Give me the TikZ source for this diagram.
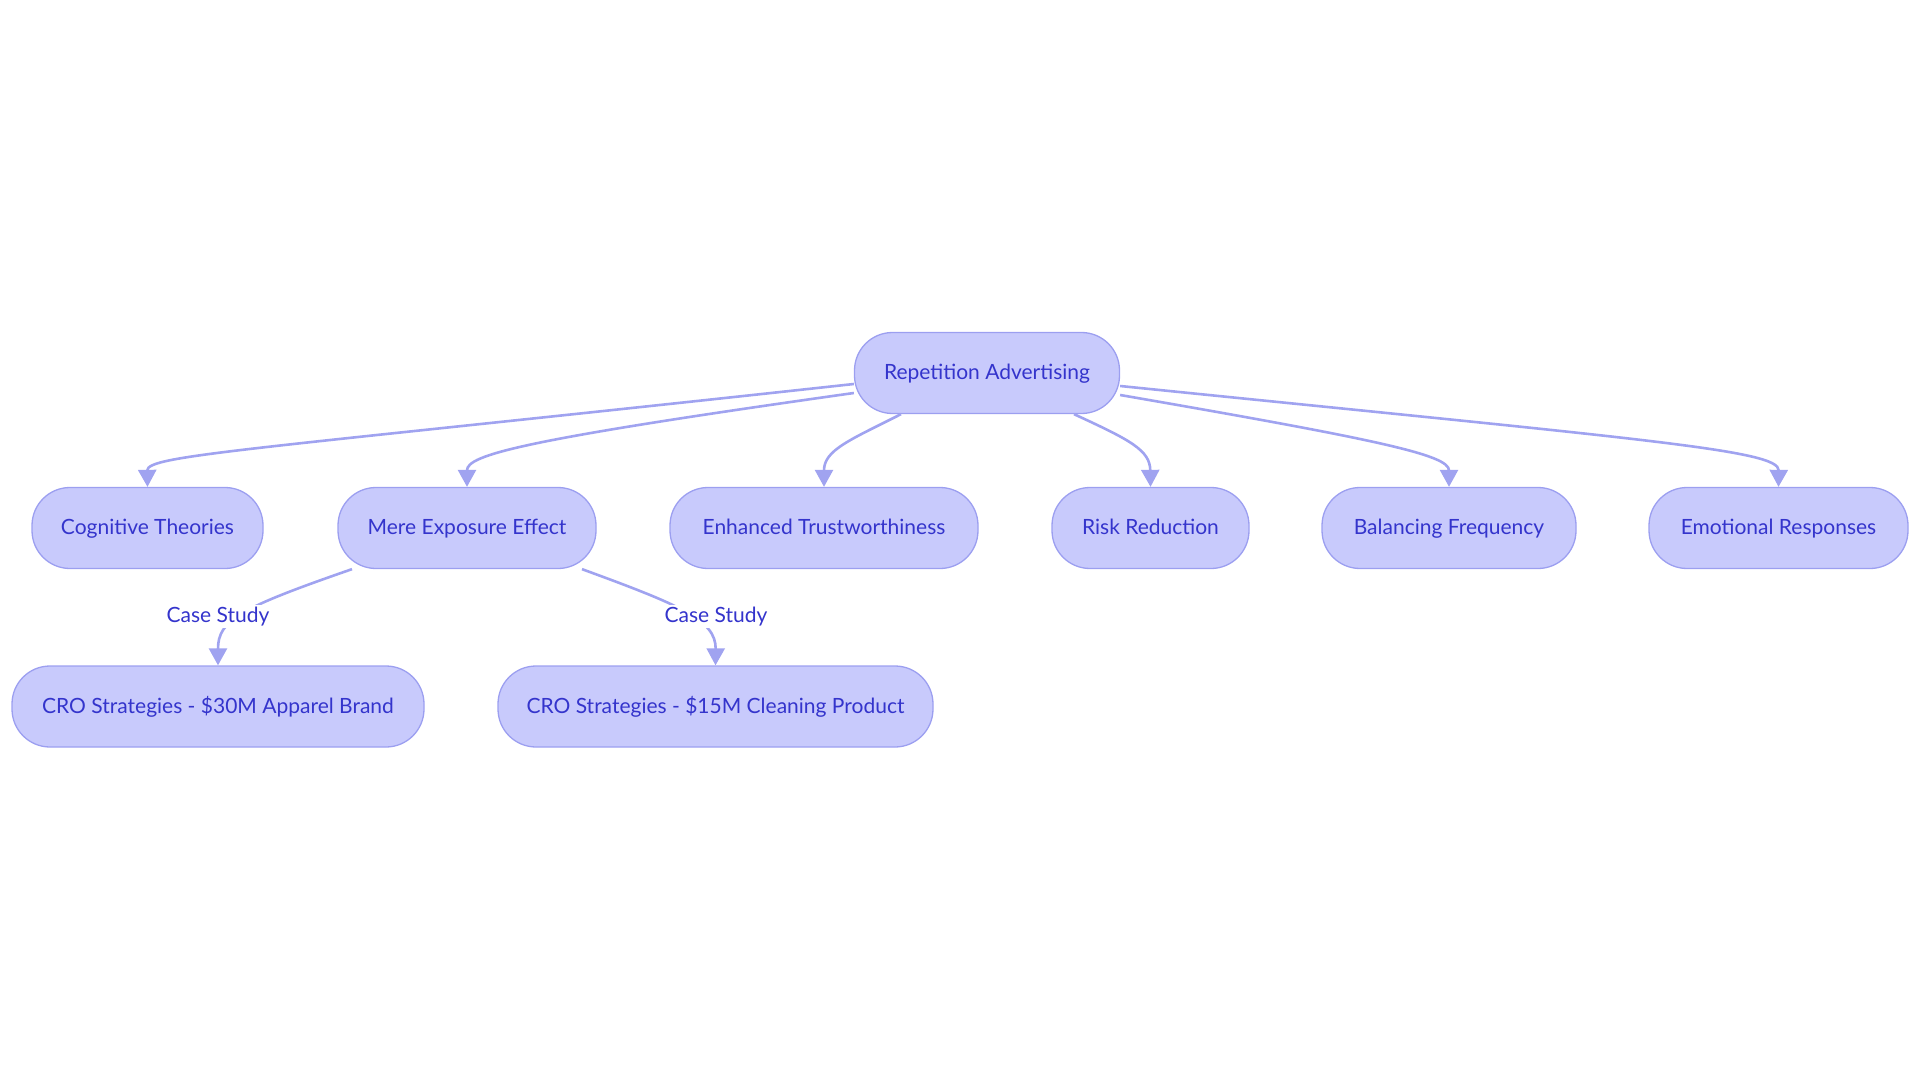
\documentclass[tikz,border=0pt]{standalone}
\usepackage{fontspec}
\setmainfont{Lato}
\usetikzlibrary{calc,arrows.meta}
\definecolor{nodefill}{RGB}{200,202,252}
\definecolor{nodeline}{RGB}{156,159,240}
\definecolor{edgecol}{RGB}{160,163,240}
\definecolor{txtcol}{RGB}{52,52,204}
\tikzset{
  box/.style={draw=nodeline, fill=nodefill, line width=1.3pt, rounded corners=38pt,
    minimum height=81pt, inner sep=0pt, text height=16pt, text depth=3pt,
    text=txtcol, font=\fontsize{21}{25}\selectfont},
  edge/.style={draw=edgecol, line width=2.6pt, -{Triangle[length=17pt,width=18pt]}},
  elabel/.style={fill=white, text=txtcol, inner sep=2pt, text height=16pt, text depth=3pt,
    font=\fontsize{21}{25}\selectfont}
}
\begin{document}
\begin{tikzpicture}[x=1pt,y=-1pt]
\useasboundingbox (0,0) rectangle (1920,1083);
\node[box, minimum width=265pt] (root) at (987,373) {Repetition Advertising};
\node[box, minimum width=231pt] (cog) at (147.5,528) {Cognitive Theories};
\node[box, minimum width=258pt] (mere) at (467,528) {Mere Exposure Effect};
\node[box, minimum width=308pt] (enh) at (824,528) {Enhanced Trustworthiness};
\node[box, minimum width=197pt] (risk) at (1150.5,528) {Risk Reduction};
\node[box, minimum width=254pt] (bal) at (1449,528) {Balancing Frequency};
\node[box, minimum width=259pt] (emo) at (1778.5,528) {Emotional Responses};
\node[box, minimum width=412pt] (cro1) at (218,706.5) {CRO Strategies - \$30M Apparel Brand};
\node[box, minimum width=435pt] (cro2) at (715.5,706.5) {CRO Strategies - \$15M Cleaning Product};

\draw[edge] ($(root.west)+(0,11)$) .. controls (250,450) and (147,455) .. (cog.north);
\draw[edge] ($(root.west)+(0,20)$) .. controls (520,440) and (467,455) .. (mere.north);
\draw[edge] ($(root.south)+(-86,0)$) .. controls (850,440) and (824,450) .. (enh.north);
\draw[edge] ($(root.south)+(87,0)$) .. controls (1130,440) and (1150,450) .. (risk.north);
\draw[edge] ($(root.east)+(0,22)$) .. controls (1380,440) and (1449,455) .. (bal.north);
\draw[edge] ($(root.east)+(0,13)$) .. controls (1650,440) and (1779,450) .. (emo.north);
\draw[edge] ($(mere.south)+(-115,0)$) .. controls (240,608) and (218,620) .. (cro1.north);
\draw[edge] ($(mere.south)+(115,0)$) .. controls (680,605) and (716,620) .. (cro2.north);

\node[elabel] (l1) at (218,616) {Case Study};
\node[elabel] (l2) at (716,616) {Case Study};
\end{tikzpicture}
\end{document}
